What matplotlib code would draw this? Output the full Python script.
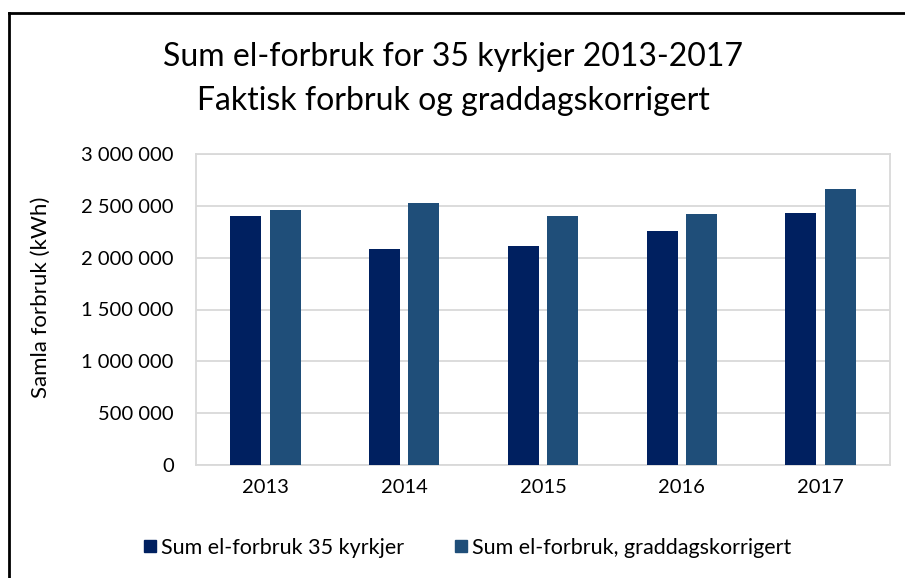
import numpy as np
import matplotlib.pyplot as plt
from matplotlib.lines import Line2D
from matplotlib.ticker import FuncFormatter

plt.rcParams['font.family'] = ['Lato', 'DejaVu Sans']

years = ['2013', '2014', '2015', '2016', '2017']
faktisk = [2400000, 2086000, 2109000, 2259000, 2430000]
korrigert = [2462000, 2527000, 2404000, 2423000, 2664000]

c_dark = '#002060'
c_light = '#1F4E79'

fig = plt.figure(figsize=(9.05, 5.78), dpi=100)
ax = fig.add_axes([196/905, 1-465/578, (890-196)/905, (465-154)/578])

x = np.arange(len(years))
w = 0.223
off = 0.142
ax.bar(x - off, faktisk, w, color=c_dark, label='Sum el-forbruk 35 kyrkjer', zorder=3)
ax.bar(x + off, korrigert, w, color=c_light, label='Sum el-forbruk, graddagskorrigert', zorder=3)

ax.set_xlim(-0.5, len(years) - 0.5)
ax.set_ylim(0, 3000000)
ax.set_yticks(np.arange(0, 3000001, 500000))
ax.yaxis.set_major_formatter(FuncFormatter(lambda v, p: f'{int(v):,}'.replace(',', ' ')))
ax.set_xticks(x)
ax.set_xticklabels(years)
ax.tick_params(axis='both', length=0, labelsize=14.5, colors='black')
ax.tick_params(axis='x', pad=10)
ax.tick_params(axis='y', pad=16)
ax.grid(axis='y', color='#d9d9d9', linewidth=1.3, zorder=0)
for s in ax.spines.values():
    s.set_color('#d9d9d9')
    s.set_linewidth(1.3)

ax.set_ylabel('Samla forbruk (kWh)', fontsize=16)
ax.yaxis.set_label_coords((51 - 196) / (890 - 196), 0.54)

fig.text(453/905, 1-57/578, 'Sum el-forbruk for 35 kyrkjer 2013-2017', ha='center', va='center', fontsize=23)
fig.text(453/905, 1-101/578, 'Faktisk forbruk og graddagskorrigert', ha='center', va='center', fontsize=23)

handles = [Line2D([], [], marker='s', linestyle='none', markersize=9, color=c_dark),
           Line2D([], [], marker='s', linestyle='none', markersize=9, color=c_light)]
fig.legend(handles, ['Sum el-forbruk 35 kyrkjer', 'Sum el-forbruk, graddagskorrigert'],
           loc='center', bbox_to_anchor=(466/905, 1-548/578), ncol=2, frameon=False,
           fontsize=15.5, handletextpad=0.05, columnspacing=2.2, handlelength=0.9)

# outer frame (left and top only visible)
fig.add_artist(Line2D([9/905, 9/905], [0, 1-13/578], color='black', linewidth=2, transform=fig.transFigure))
fig.add_artist(Line2D([9/905, 1], [1-13/578, 1-13/578], color='black', linewidth=2, transform=fig.transFigure))

fig.savefig('out.png', dpi=100)
